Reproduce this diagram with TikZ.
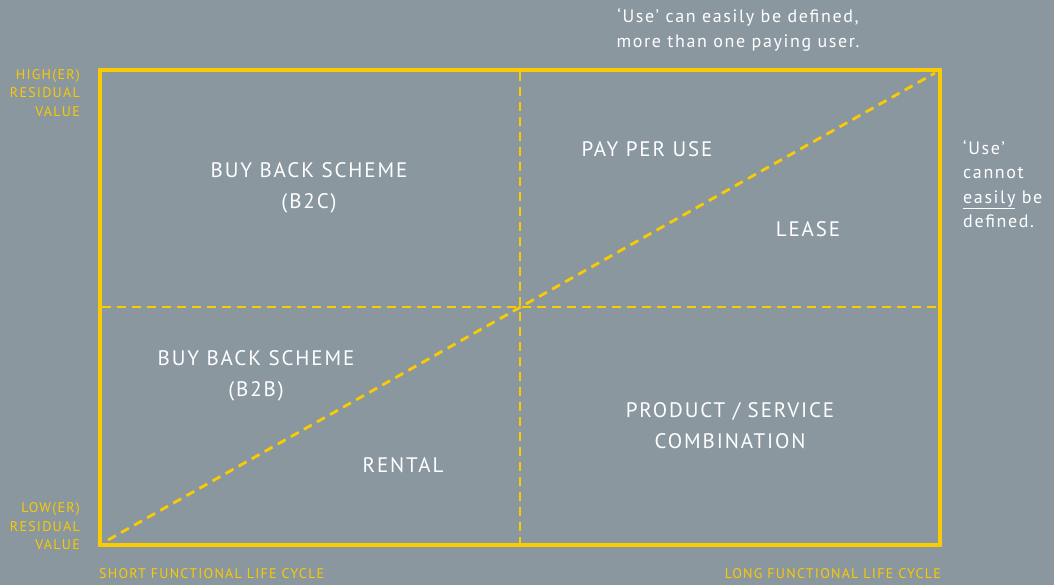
\documentclass[tikz,border=0pt]{standalone}
\usepackage{fontspec}
\setmainfont{PT Sans}
\newfontfamily\spaced[LetterSpace=9]{PT Sans}
\definecolor{slate}{HTML}{8A979F}
\definecolor{gold}{HTML}{FACB00}

\begin{document}
\begin{tikzpicture}[x=1pt, y=1pt,
	frame/.style={line width=4pt, color=gold},
	guide/.style={line width=2.8pt, color=gold, dash pattern=on 9pt off 6pt},
	quad/.style={text=white, font=\spaced\fontsize{21}{31}\selectfont, align=center, inner sep=0pt},
	axis/.style={text=gold, font=\spaced\fontsize{14}{18.5}\selectfont, inner sep=0pt},
	note/.style={text=white, font=\spaced\fontsize{18}{24.5}\selectfont, inner sep=0pt}]
		%%%%% START %%%%%
		
		\fill[slate] (0, 0) rectangle (1054, 585);
		
		\draw[frame] (100, 40) rectangle (940, 515);
		
		\draw[guide] (520, 513) -- (520, 42);
		\draw[guide] (102, 278) -- (938, 278);
		\draw[guide] (108, 45) -- (935, 512);
		
		\node[quad] (b2c) at (309, 397) {BUY BACK SCHEME\\(B2C)};
		\node[quad] (ppu) at (647, 436) {PAY PER USE};
		\node[quad] (lease) at (808, 356) {LEASE};
		\node[quad] (b2b) at (256, 209) {BUY BACK SCHEME\\(B2B)};
		\node[quad] (rental) at (403, 120) {RENTAL};
		\node[quad] (combo) at (730, 159) {PRODUCT / SERVICE\\COMBINATION};
		
		\node[axis, align=right, anchor=north east] (high) at (80, 516) {HIGH(ER)\\RESIDUAL\\VALUE};
		\node[axis, align=right, anchor=south east] (low) at (80, 35) {LOW(ER)\\RESIDUAL\\VALUE};
		\node[axis, anchor=west] (short) at (99, 11) {SHORT FUNCTIONAL LIFE CYCLE};
		\node[axis, anchor=east] (long) at (941, 11) {LONG FUNCTIONAL LIFE CYCLE};
		
		\node[note, align=center] (defined) at (738, 555) {‘Use’ can easily be defined,\\more than one paying user.};
		\node[note, align=left, anchor=north west] (undefined) at (963, 445) {‘Use’\\cannot\\\underline{easily} be\\defined.};
		
		%%%%% END %%%%%
\end{tikzpicture}
\end{document}
